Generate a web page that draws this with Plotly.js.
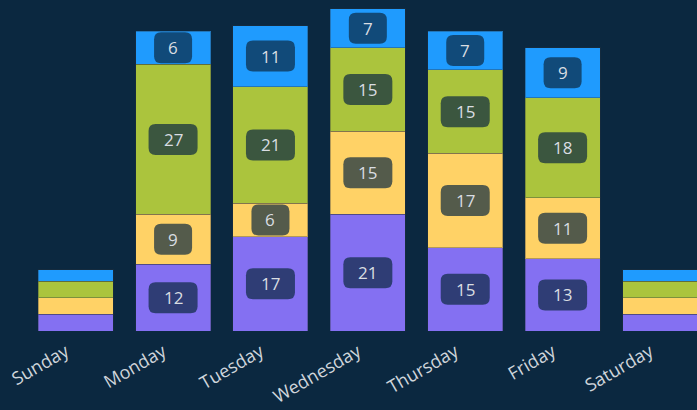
<!DOCTYPE html>
<html>
<head>
<meta charset="utf-8">
<script src="https://cdn.plot.ly/plotly-3.0.1.min.js"></script>
<style>
html,body{margin:0;padding:0;background:#0b2840;}
#chart{width:697px;height:410px;}
</style>
</head>
<body>
<div id="chart"></div>
<script>
const days = ['Sunday','Monday','Tuesday','Wednesday','Thursday','Friday','Saturday'];
const seriesNames = ['Series 1','Series 2','Series 3','Series 4'];
const purpleVals = [3, 12, 17, 21, 15, 13, 3];
const yellowVals = [3, 9, 6, 15, 17, 11, 3];
const greenVals  = [3, 27, 21, 15, 15, 18, 3];
const blueVals   = [2, 6, 11, 7, 7, 9, 2];

const colors = ['#8470f2', '#ffd266', '#abc43d', '#1f9bfe'];
const allSeries = [purpleVals, yellowVals, greenVals, blueVals];
const bg = '#0b2840';

const traces = allSeries.map((vals, i) => ({
  type: 'bar',
  x: days,
  y: vals,
  name: seriesNames[i],
  marker: {color: colors[i], line: {color: 'rgba(40,50,60,0.35)', width: 1}},
  hoverinfo: 'x+y+name'
}));

const shapes = [];
const annotations = [];
function roundRect(w, h, r) {
  const a = w/2, b = h/2;
  return `M ${-a+r},${-b} L ${a-r},${-b} Q ${a},${-b} ${a},${-b+r} L ${a},${b-r} Q ${a},${b} ${a-r},${b} ` +
         `L ${-a+r},${b} Q ${-a},${b} ${-a},${b-r} L ${-a},${-b+r} Q ${-a},${-b} ${-a+r},${-b} Z`;
}
days.forEach((d, di) => {
  let base = 0;
  allSeries.forEach((vals) => {
    const v = vals[di];
    const mid = base + v/2;
    base += v;
    if (v < 5) return;
    const txt = String(v);
    const w = 27 + 11 * txt.length;
    shapes.push({
      type: 'path', xref: 'x', yref: 'y',
      xsizemode: 'pixel', ysizemode: 'pixel',
      xanchor: d, yanchor: mid,
      path: roundRect(w, 31, 7),
      fillcolor: 'rgba(11,40,64,0.7)',
      line: {width: 0},
      layer: 'above'
    });
    annotations.push({
      x: d, y: mid, xref: 'x', yref: 'y',
      text: txt, showarrow: false,
      font: {family: 'Open Sans, sans-serif', size: 17, color: '#d9dde2'}
    });
  });
});

const layout = {
  width: 697, height: 410,
  paper_bgcolor: bg, plot_bgcolor: bg,
  barmode: 'stack', bargap: 0.23,
  showlegend: false,
  margin: {l: 27, r: 0, t: 0, b: 79},
  xaxis: {
    type: 'category', range: [-0.5, 6.38],
    showgrid: false, zeroline: false, showline: false,
    tickangle: -30, ticks: '',
    ticklabelshift: -10, ticklabelstandoff: 6,
    tickfont: {family: 'Open Sans, sans-serif', size: 18, color: '#cfd5db'}
  },
  yaxis: {
    range: [0, 59.6], visible: false, showgrid: false, zeroline: false
  },
  shapes: shapes,
  annotations: annotations
};

Plotly.newPlot('chart', traces, layout, {displayModeBar: false, staticPlot: true});
</script>
</body>
</html>
